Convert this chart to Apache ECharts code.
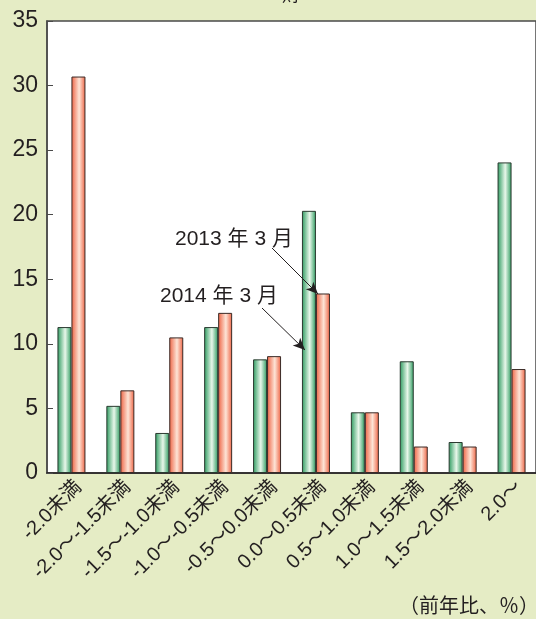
<!DOCTYPE html>
<html>
<head>
<meta charset="utf-8">
<script src="https://cdn.jsdelivr.net/npm/echarts@6/dist/echarts.min.js"></script>
<style>
  html, body { margin: 0; padding: 0; background: #e5ecc5; }
  #main { width: 536px; height: 619px; }
</style>
</head>
<body>
<div id="main"></div>
<script>
// 前年比の区分
const categories = ['-2.0未満', '-2.0~-1.5未満', '-1.5~-1.0未満', '-1.0~-0.5未満', '-0.5~0.0未満',
  '0.0~0.5未満', '0.5~1.0未満', '1.0~1.5未満', '1.5~2.0未満', '2.0~']
const data2014 = [11.3, 5.2, 3.1, 11.3, 8.8, 20.3, 4.7, 8.65, 2.4, 24.05]
const data2013 = [30.7, 6.4, 10.5, 12.4, 9.05, 13.9, 4.7, 2.05, 2.05, 8.05]
const yTicks = [0, 5, 10, 15, 20, 25, 30, 35]

const jp = '"Liberation Sans", "Noto Sans CJK JP", sans-serif'

function grad(edge, mid) {
  return new echarts.graphic.LinearGradient(0, 0, 1, 0, [
    {offset: 0, color: edge},
    {offset: 0.55, color: mid},
    {offset: 1, color: edge}
  ])
}

const chart = echarts.init(document.getElementById('main'))

let option = {
  backgroundColor: '#e5ecc5',
  animation: false,
  grid: {
    left: 47, top: 21, right: -1, bottom: 146,
    show: true, backgroundColor: '#fff', borderColor: '#4a4a4a', borderWidth: 1.5
  },
  xAxis: {
    type: 'category',
    data: categories,
    axisLine: {lineStyle: {color: '#231f20', width: 1.5}},
    axisTick: {inside: true, length: 8, lineStyle: {color: '#231f20'}},
    axisLabel: {
      rotate: 45, interval: 0, margin: 4, fontSize: 20, color: '#231f20',
      fontFamily: jp, verticalAlign: 'top',
      formatter: v => v.replace(/~/g, '〜')
    }
  },
  yAxis: {
    type: 'value',
    min: yTicks[0], max: yTicks[yTicks.length - 1], interval: 5,
    axisLine: {show: true, lineStyle: {color: '#4a4a4a', width: 1.5}},
    axisTick: {show: true, inside: true, length: 6, lineStyle: {color: '#4a4a4a'}},
    splitLine: {show: false},
    axisLabel: {fontSize: 23, color: '#231f20', margin: 9, fontFamily: jp}
  },
  series: [
    {
      name: '2014年3月',
      type: 'bar',
      data: data2014,
      barWidth: 14,
      barGap: '0%',
      itemStyle: {color: grad('#2b9a5e', '#e8f7ea'), borderColor: '#2b3a30', borderWidth: 1},
      markLine: {
        silent: true,
        symbol: ['none', 'arrow'],
        symbolSize: [8, 12],
        label: {show: false},
        lineStyle: {color: '#231f20', width: 1, type: 'solid'},
        data: [
          [{x: 272, y: 248}, {x: 318, y: 294}],
          [{x: 262, y: 308}, {x: 305, y: 350}]
        ]
      }
    },
    {
      name: '2013年3月',
      type: 'bar',
      data: data2013,
      barWidth: 14,
      itemStyle: {color: grad('#ee6242', '#fde4d6'), borderColor: '#3a2a26', borderWidth: 1}
    }
  ],
  graphic: [
    {type: 'text', left: 282, top: -13, style: {text: '財', fontSize: 18, fill: '#231f20', fontFamily: jp}},
    {type: 'text', left: 175, top: 229, style: {text: '2013 年 3 月', fontSize: 21, fill: '#231f20', fontFamily: jp}},
    {type: 'text', left: 160, top: 286, style: {text: '2014 年 3 月', fontSize: 21, fill: '#231f20', fontFamily: jp}},
    {type: 'text', right: -3, top: 595, style: {text: '（前年比、％）', fontSize: 20, fill: '#231f20', fontFamily: '"Noto Sans CJK JP", sans-serif'}}
  ]
}

chart.setOption(option)
</script>
</body>
</html>
